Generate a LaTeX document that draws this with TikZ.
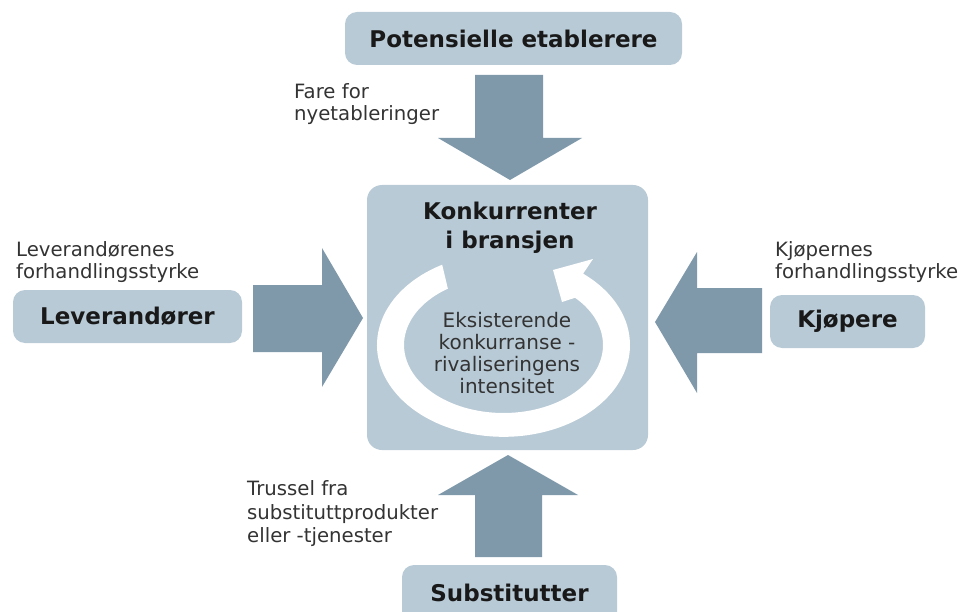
\documentclass[tikz,border=0pt]{standalone}
\usepackage{fontspec}
\setmainfont{DejaVu Sans}
\usetikzlibrary{calc}
\definecolor{boxc}{HTML}{B8CAD6}
\definecolor{arrc}{HTML}{7F99AA}
\definecolor{lbl}{HTML}{333333}
\begin{document}
\begin{tikzpicture}[x=1pt,y=1pt,
  box/.style={fill=boxc, rounded corners=12pt, inner sep=0pt, font=\fontsize{23}{27}\selectfont\bfseries, text=black!90},
  lab/.style={anchor=west, align=left, inner sep=0pt, font=\fontsize{19.7}{22}\selectfont, text=lbl},
  bigarrow/.style={fill=arrc}]
\useasboundingbox (0,0) rectangle (963,-612);
\clip (0,0) rectangle (963,-612);
% central box
\node[fill=boxc, rounded corners=15pt, minimum width=281pt, minimum height=265pt, inner sep=0pt] (core) at (507.5,-317.5) {};
\node[align=center, inner sep=0pt, font=\fontsize{23}{29}\selectfont\bfseries, text=black!90] (coret) at (510,-227.5) {Konkurrenter\\i bransjen};
% ring arrow
\fill[white] (503.5,-345) ++(119:126.5 and 91.8)
  arc[start angle=119, end angle=411, x radius=126.5, y radius=91.8]
  -- (593,-259) -- (553,-270) -- (562,-302)
  -- ($(503.5,-345)+(44:99.5 and 68)$)
  arc[start angle=404, end angle=124, x radius=99.5, y radius=68] -- cycle;
\node[align=center, inner sep=0pt, font=\fontsize{20}{22}\selectfont, text=lbl] (rival) at (507,-353) {Eksisterende\\konkurranse -\\rivaliseringens\\intensitet};
% outer boxes
\node[box, minimum width=337pt, minimum height=53pt] (pot) at (513.5,-38.5) {Potensielle etablerere};
\node[box, minimum width=229pt, minimum height=53pt] (lev) at (127.5,-316.5) {Leverandører};
\node[box, minimum width=155pt, minimum height=53pt] (kjo) at (847.5,-321.5) {Kjøpere};
\node[box, minimum width=215pt, minimum height=60pt] (sub) at (509.5,-595) {};
\node[inner sep=0pt, font=\fontsize{23}{27}\selectfont\bfseries, text=black!90] (subt) at (509.5,-593) {Substitutter};
% big arrows
\fill[bigarrow] (475,-75) -- (543,-75) -- (543,-138) -- (582,-138) -- (510,-180) -- (438,-138) -- (475,-138) -- cycle;
\fill[bigarrow] (475,-557) -- (542,-557) -- (542,-495) -- (578,-495) -- (508,-455) -- (438,-495) -- (475,-495) -- cycle;
\fill[bigarrow] (253,-285) -- (322,-285) -- (322,-248) -- (363,-318) -- (322,-387) -- (322,-352) -- (253,-352) -- cycle;
\fill[bigarrow] (762,-288) -- (697,-288) -- (697,-252) -- (655,-322) -- (697,-393) -- (697,-353) -- (762,-353) -- cycle;
% labels
\node[lab] (fare) at (294,-104) {Fare for\\nyetableringer};
\node[lab] (levl) at (16,-262.5) {Leverandørenes\\forhandlingsstyrke};
\node[lab] (kjol) at (775,-262.5) {Kjøpernes\\forhandlingsstyrke};
\node[lab, font=\fontsize{19.7}{23.5}\selectfont] (trus) at (247,-514) {Trussel fra\\substituttprodukter\\eller -tjenester};
\end{tikzpicture}
\end{document}
